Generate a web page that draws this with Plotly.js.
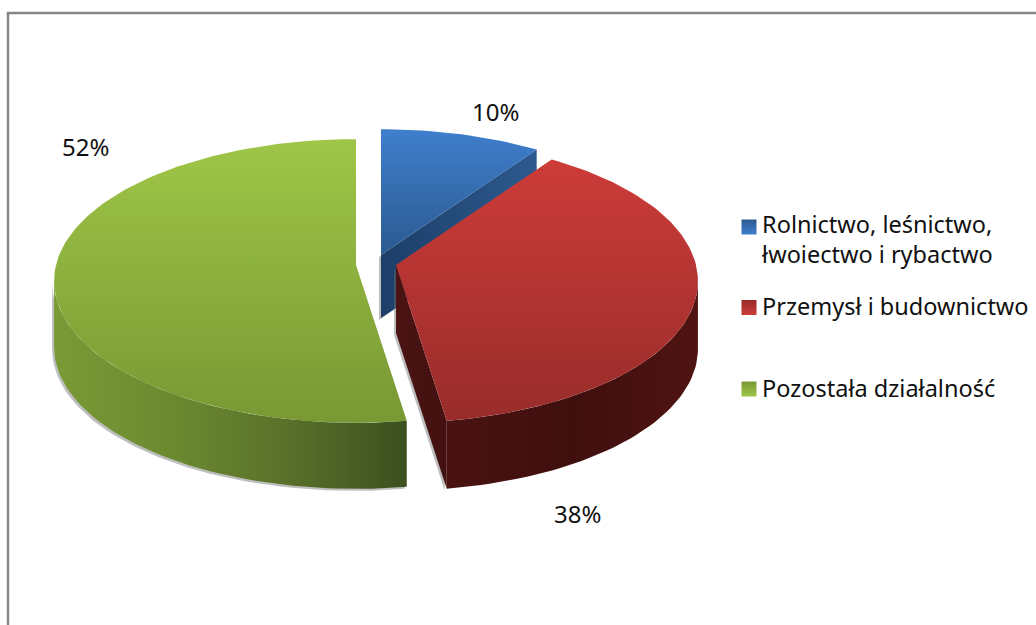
<!DOCTYPE html>
<html><head><meta charset="utf-8">
<script src="https://cdn.plot.ly/plotly-3.0.1.min.js"></script>
<style>html,body{margin:0;padding:0;background:#fff}#c{width:1036px;height:625px}</style></head>
<body><div id="c"></div>
<script>
const categories = ["Rolnictwo, leśnictwo,<br>łwoiectwo i rybactwo", "Przemysł i budownictwo<br> ", "Pozostała działalność"];
const shares = [9.6, 38.0, 52.4];
const tickLabels = shares.map(v => Math.round(v) + "%");
const topColors = [["#2c5a90","#3f7fce"],["#982c2a","#cd3c39"],["#789834","#9fc647"]];
const legendLight = ["#3f7fce","#cd3c39","#9fc647"];
const legendDark = ["#2c5a90","#982c2a","#789834"];

const R = 300, Ry = 140, k = 0.113;
const centers = [[381,255,63],[396,265,68],[356,265,66]];
const rad = d => d*Math.PI/180;
function pt(deg,c){
  const X=Math.sin(rad(deg)),Y=Math.cos(rad(deg)),s=1/(1+k*Y);
  return [c[0]+R*X*s, c[1]-Ry*Y*s];
}
function arc(a,b,c,dy){
  const n=Math.max(2,Math.ceil(Math.abs(b-a)/1.5)),o=[];
  for(let i=0;i<=n;i++){const p=pt(a+(b-a)*i/n,c);o.push([p[0],p[1]+(dy||0)]);}
  return o;
}
function poly(points,grad,type){
  return {x:points.map(p=>p[0]),y:points.map(p=>p[1]),mode:'lines',fill:'toself',
    line:{width:0},hoverinfo:'skip',showlegend:false,
    fillcolor:grad[0],fillgradient:{type:type,colorscale:grad.map((g,i)=>[i/(grad.length-1),g])}};
}
function shadow(points){
  return {x:points.map(p=>p[0]-2),y:points.map(p=>p[1]+2),mode:'lines',fill:'toself',
    line:{width:0},hoverinfo:'skip',showlegend:false,fillcolor:'rgba(110,110,110,0.45)'};
}
const bounds=[0];shares.forEach(v=>bounds.push(bounds[bounds.length-1]+v*3.6));
const tExt=Math.acos(-k)*180/Math.PI;
const cB=centers[0],cR=centers[1],cG=centers[2];
const traces=[];
// blue cut wall + top
const bE=pt(bounds[1],cB);
const bWall=[[cB[0],cB[1]],bE,[bE[0],bE[1]+cB[2]],[cB[0],cB[1]+cB[2]]];
traces.push(shadow(bWall));
traces.push(poly(bWall,["#1c3e68","#2d5a8f"],'horizontal'));
traces.push(poly([[cB[0],cB[1]]].concat(arc(bounds[0],bounds[1],cB)),topColors[0],'vertical'));
// green wall + top
const gWall=arc(bounds[2],360-tExt,cG).concat(arc(bounds[2],360-tExt,cG,cG[2]).reverse());
traces.push(shadow(gWall));
traces.push(poly(gWall,["#7a9a36","#6b8a30","#59702a","#3c4f1f"],'horizontal'));
traces.push(poly([[cG[0],cG[1]]].concat(arc(bounds[2],bounds[3],cG)),topColors[2],'vertical'));
// red walls + top
const rE=pt(bounds[2],cR);
const rCut=[[cR[0],cR[1]],rE,[rE[0],rE[1]+cR[2]],[cR[0],cR[1]+cR[2]]];
traces.push(shadow(rCut));
const rWall=arc(tExt,bounds[2],cR).concat(arc(tExt,bounds[2],cR,cR[2]).reverse());
traces.push(poly(rCut,["#4a1412","#431110"],'horizontal'));
traces.push(poly(rWall,["#4a1311","#3f0f0e","#4f1412"],'horizontal'));
traces.push(poly([[cR[0],cR[1]]].concat(arc(bounds[1],bounds[2],cR)),topColors[1],'vertical'));
// legend text entries and their swatches
categories.forEach((name,i)=>traces.push({x:[null],y:[null],mode:'lines',name:name,legendgroup:'g'+i,
  line:{width:0,color:legendLight[i]},showlegend:true,hoverinfo:'skip'}));
const swatchX=[749,749,749], swatchY=[227,307.5,389];
traces.push({x:swatchX,y:swatchY,mode:'markers',showlegend:false,hoverinfo:'skip',
  marker:{symbol:'square',size:15,color:legendDark,line:{width:0},
    gradient:{type:'vertical',color:legendLight}}});

const labelPos=[[495,111],[577,513],[85,146]];
const layout={
  width:1036,height:625,margin:{l:0,r:0,t:0,b:0},paper_bgcolor:'#fff',plot_bgcolor:'#fff',
  xaxis:{range:[0,1036],visible:false,fixedrange:true},
  yaxis:{range:[625,0],visible:false,fixedrange:true},
  font:{family:'"Noto Sans",sans-serif',size:23.5,color:'#111'},
  legend:{x:0.697,y:0.677,xanchor:'left',yanchor:'top',tracegroupgap:18,bgcolor:'rgba(0,0,0,0)',itemwidth:30,font:{size:23.5,color:'#111'}},
  shapes:[{type:'path',path:'M8,625 L8,13 L1036,13',xref:'x',yref:'y',line:{color:'#868686',width:2.5}}],
  annotations:tickLabels.map((t,i)=>({x:labelPos[i][0],y:labelPos[i][1],xref:'x',yref:'y',text:t,showarrow:false,font:{size:24,color:'#111'}}))
};
Plotly.newPlot('c',traces,layout,{displayModeBar:false,staticPlot:true});
</script></body></html>
